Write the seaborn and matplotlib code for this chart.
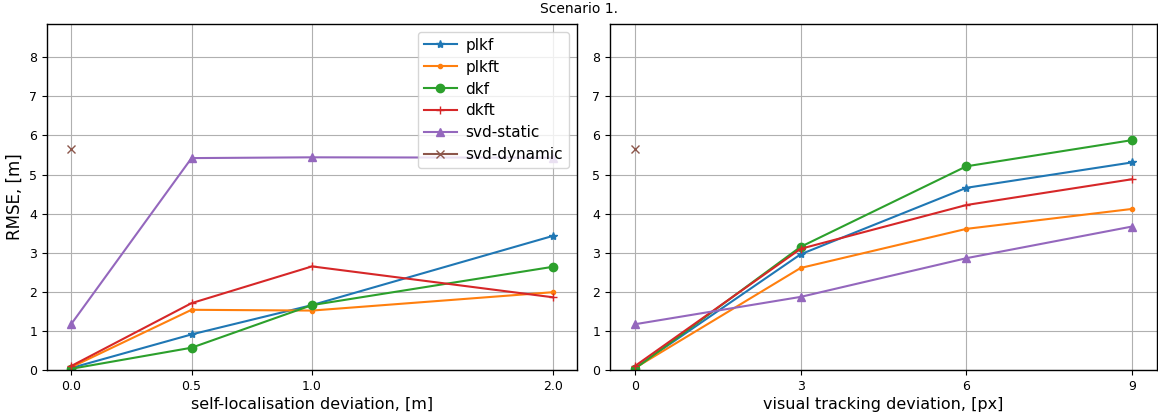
import matplotlib
matplotlib.use("Agg")
import matplotlib.pyplot as plt
import seaborn as sns
import numpy as np

# ---- data ----
series_names = ["plkf", "plkft", "dkf", "dkft", "svd-static", "svd-dynamic"]

x_self = [0.0, 0.5, 1.0, 2.0]
self_plkf = [0.05, 0.91, 1.66, 3.43]
self_plkft = [0.07, 1.54, 1.52, 1.99]
self_dkf = [0.03, 0.57, 1.66, 2.64]
self_dkft = [0.10, 1.71, 2.65, 1.86]
self_svd_static = [1.17, 5.42, 5.44, 5.43]
self_svd_dynamic = [5.65, np.nan, np.nan, np.nan]

x_vis = [0, 3, 6, 9]
vis_plkf = [0.05, 2.96, 4.66, 5.31]
vis_plkft = [0.05, 2.61, 3.61, 4.12]
vis_dkf = [0.03, 3.15, 5.21, 5.88]
vis_dkft = [0.10, 3.10, 4.22, 4.88]
vis_svd_static = [1.17, 1.87, 2.86, 3.67]
vis_svd_dynamic = [5.65, np.nan, np.nan, np.nan]

self_tick_labels = ["0.0", "0.5", "1.0", "2.0"]
vis_tick_labels = ["0", "3", "6", "9"]

markers = ["*", ".", "o", "+", "^", "x"]
colors = sns.color_palette("tab10", 6)

fig = plt.figure(figsize=(11.58, 4.16), dpi=100)
ax1 = fig.add_axes([47/1158, 1-370/416, 530/1158, 346/416])
ax2 = fig.add_axes([610/1158, 1-370/416, 547/1158, 346/416])

left_series = [self_plkf, self_plkft, self_dkf, self_dkft, self_svd_static, self_svd_dynamic]
right_series = [vis_plkf, vis_plkft, vis_dkf, vis_dkft, vis_svd_static, vis_svd_dynamic]

def draw(ax, xs, ys_list, legend):
    for name, ys, m, c in zip(series_names, ys_list, markers, colors):
        xx = [a for a, b in zip(xs, ys) if not np.isnan(b)]
        yy = [b for b in ys if not np.isnan(b)]
        sns.lineplot(x=xx, y=yy, ax=ax, color=c, marker=m, label=name if legend else None,
                     markeredgecolor=c, markeredgewidth=1.0, markersize=6,
                     linewidth=1.5, legend=legend)
    ax.set_ylim(0, 8.85)
    ax.set_yticks(range(0, 9))
    ax.grid(True, color="#b0b0b0", linewidth=0.8)
    ax.tick_params(labelsize=9)
    for s in ax.spines.values():
        s.set_linewidth(1.0)

draw(ax1, x_self, left_series, True)
draw(ax2, x_vis, right_series, False)

ax1.set_xlim(-0.1, 2.1)
ax1.set_xticks(x_self)
ax1.set_xticklabels(self_tick_labels)
ax2.set_xlim(-0.45, 9.45)
ax2.set_xticks(x_vis)
ax2.set_xticklabels(vis_tick_labels)

ax1.set_xlabel("self-localisation deviation, [m]", fontsize=11.5, labelpad=3)
ax2.set_xlabel("visual tracking deviation, [px]", fontsize=11.5, labelpad=3)
ax1.set_ylabel("RMSE, [m]", fontsize=12)
ax2.set_ylabel("")

ax1.legend(loc="upper right", fontsize=11, labelspacing=0.45, handletextpad=0.55,
           handlelength=2.2, borderaxespad=0.5)
fig.suptitle("Scenario 1.", fontsize=10, y=0.995)

fig.savefig("out.png", dpi=100)
